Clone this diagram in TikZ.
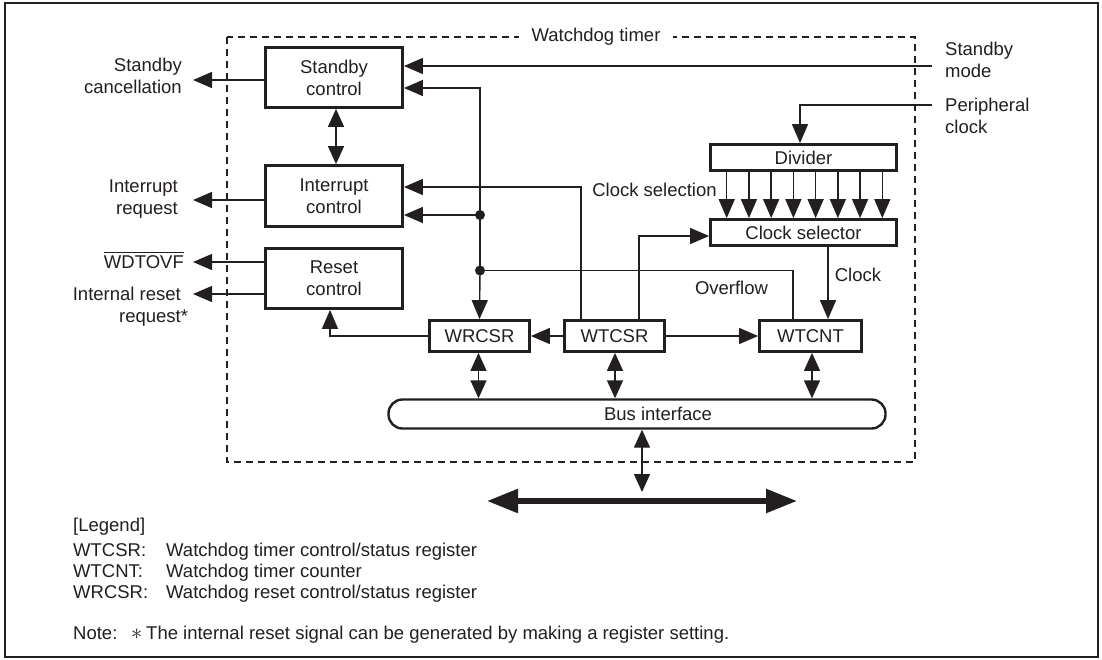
\documentclass[tikz,border=0pt]{standalone}
\usepackage{fontspec}
\setmainfont{Liberation Sans}
\usetikzlibrary{arrows.meta}
\definecolor{ink}{HTML}{231F20}
\newcommand\myovl[1]{\setbox0\hbox{#1}\rlap{\rule[\dimexpr\ht0+2.5pt\relax]{\wd0}{1.3pt}}\box0}
\begin{document}
\begin{tikzpicture}[x=1pt,y=-1pt,color=ink,
  font=\fontsize{18.5}{22}\selectfont,
  box/.style={draw,line width=2.8pt,inner sep=0pt,align=center},
  conn/.style={line width=1.4pt},
  arr/.style={conn,-{Triangle[length=19pt,width=16pt]}},
  dbl/.style={conn,{Triangle[length=18pt,width=16pt]}-{Triangle[length=18pt,width=16pt]}},
  bigdbl/.style={line width=5.5pt,{Triangle[length=31pt,width=23pt]}-{Triangle[length=31pt,width=23pt]}},
  txt/.style={inner sep=0pt},
  jdot/.style={fill},
  wdbox/.style={line width=1.3pt,dash pattern=on 7pt off 5pt}]
\useasboundingbox (0,0) rectangle (1102,659);
\fill[white] (0,0) rectangle (1102,659);
% outer frame
\draw[line width=2.4pt] (5,3) rectangle (1098,657);
% watchdog dashed box
\draw[wdbox] (227,37) rectangle (915,462);
\node[txt,fill=white,inner xsep=13pt,inner ysep=2pt] (wdt) at (596,37) {Watchdog timer};

% blocks
\node[box,minimum width=137pt,minimum height=60pt] (sc) at (334,77.5) {Standby\\control};
\node[box,minimum width=137pt,minimum height=61pt] (ic) at (334,196) {Interrupt\\control};
\node[box,minimum width=137pt,minimum height=60pt] (rc) at (334,278.5) {Reset\\control};
\node[box,minimum width=100pt,minimum height=31pt] (wr) at (479.5,336) {WRCSR};
\node[box,minimum width=100pt,minimum height=31pt] (wt) at (614.5,336) {WTCSR};
\node[box,minimum width=102pt,minimum height=31pt] (wc) at (810.5,336) {WTCNT};
\node[box,minimum width=186pt,minimum height=26pt] (dv) at (803.5,157.5) {Divider};
\node[box,minimum width=186pt,minimum height=26pt] (cs) at (803.5,232.5) {Clock selector};
\node[box,line width=2.4pt,rounded corners=14pt,minimum width=497pt,minimum height=29pt] (bus) at (637,414) {};
\node[txt] (bustxt) at (658,414) {Bus interface};

% outside labels
\node[txt,align=right,anchor=east] (lsc) at (182,76) {Standby\\cancellation};
\node[txt,align=right,anchor=east] (lir) at (178,199) {Interrupt\\request};
\node[txt,anchor=base east] (lwd) at (184,268.6) {\myovl{WDTOVF}};
\node[txt,align=right,anchor=east] (lrr) at (181,306.8) {Internal reset\\request\rlap{*}};
\node[txt,align=left,anchor=west] (lsm) at (945,60) {Standby\\mode};
\node[txt,align=left,anchor=west] (lpc) at (945,116) {Peripheral\\clock};
\node[txt] (lcsel) at (654.5,190) {Clock selection};
\node[txt] (lovf) at (731.5,288) {Overflow};
\node[txt] (lclk) at (858,275) {Clock};

% free ends
\coordinate (scout) at (193,80);
\coordinate (irout) at (193,200);
\coordinate (wdout) at (193,262);
\coordinate (rrout) at (193,294);
\coordinate (smin) at (932,66);
\coordinate (pcin) at (932,105);
\coordinate (busend) at (642,492);
\coordinate (sysL) at (487,501);
\coordinate (sysR) at (797,501);
\coordinate (j1) at (480,215);
\coordinate (j2) at (480,270.5);

% outputs
\draw[arr] (sc.west |- scout) -- (scout);
\draw[arr] (ic.west |- irout) -- (irout);
\draw[arr] (rc.west |- wdout) -- (wdout);
\draw[arr] (rc.west |- rrout) -- (rrout);

% inputs
\draw[arr] (smin) -- (sc.east |- smin);
\draw[arr] (pcin) -| (dv.north -| 800,0);

% standby <-> interrupt
\draw[dbl] (sc.south -| 336,0) -- (ic.north -| 336,0);

% overflow distribution
\draw[conn] (wc.north -| 793,0) |- (j2);
\draw[arr] (j2) |- (sc.east |- 0,88);
\draw[arr] (j1) -- (ic.east |- j1);
\draw[arr] (j2) -- (wr.north);
\fill[jdot] (j1) circle (5pt);
\fill[jdot] (j2) circle (5pt);

% WTCSR outputs
\draw[arr] (wt.north -| 581,0) |- (ic.east |- 0,187);
\draw[arr] (wt.north -| 639,0) |- (cs.west |- 0,236);
\draw[arr] (wt.west) -- (wr.east);
\draw[arr] (wt.east) -- (wc.west);
\draw[arr] (wr.west) -| (rc.south -| 330,0);

% divider -> clock selector
\foreach \i in {0,...,7}{
  \draw[arr] (dv.south -| {726.7+\i*22.23},0) -- (cs.north -| {726.7+\i*22.23},0);
}
% clock
\draw[arr] (cs.south -| 828,0) -- (wc.north -| 828,0);

% bus connections
\draw[dbl] (wr.south -| 478.5,0) -- (bus.north -| 478.5,0);
\draw[dbl] (wt.south -| 615,0) -- (bus.north -| 615,0);
\draw[dbl] (wc.south -| 812,0) -- (bus.north -| 812,0);
\draw[dbl] (bus.south -| busend) -- (busend);
\draw[bigdbl] (sysL) -- (sysR);

% legend
\node[txt,anchor=base west] (lg) at (73,531.6) {[Legend]};
\node[txt,anchor=base west] (lg1) at (73,556.7) {WTCSR:};
\node[txt,anchor=base west] (lg1d) at (166,556.7) {Watchdog timer control/status register};
\node[txt,anchor=base west] (lg2) at (73,577.6) {WTCNT:};
\node[txt,anchor=base west] (lg2d) at (166,577.6) {Watchdog timer counter};
\node[txt,anchor=base west] (lg3) at (73,598.6) {WRCSR:};
\node[txt,anchor=base west] (lg3d) at (166,598.6) {Watchdog reset control/status register};
\node[txt,anchor=base west] (nt) at (73,639.6) {Note:};
\node[txt,anchor=base west] (ntast) at (131,639.6) {\scalebox{1.3}{$\ast$}};
\node[txt,anchor=base west] (ntd) at (146,639.6) {The internal reset signal can be generated by making a register setting.};
\end{tikzpicture}
\end{document}
